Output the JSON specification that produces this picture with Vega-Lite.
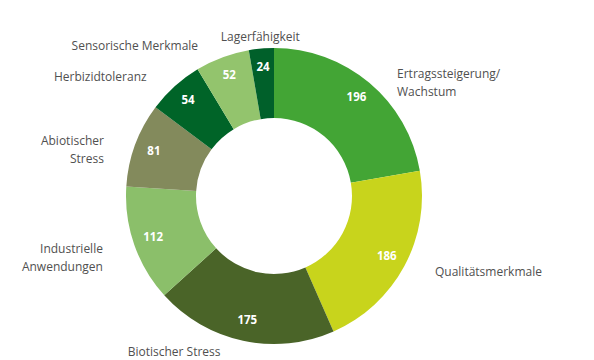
{
  "$schema": "https://vega.github.io/schema/vega-lite/v6.json",
  "autosize": {"type": "none"},
  "padding": {"left": 0, "top": 32, "right": 46, "bottom": 0},
  "width": 548,
  "height": 328,
  "background": "white",
  "config": {"view": {"stroke": null}, "font": "Open Sans"},
  "data": {
    "values": [
      {"category": "Ertragssteigerung/\nWachstum", "value": 196},
      {"category": "Qualitätsmerkmale", "value": 186},
      {"category": "Biotischer Stress", "value": 175},
      {"category": "Industrielle\nAnwendungen", "value": 112},
      {"category": "Abiotischer\nStress", "value": 81},
      {"category": "Herbizidtoleranz", "value": 54},
      {"category": "Sensorische Merkmale", "value": 52},
      {"category": "Lagerfähigkeit", "value": 24}
    ]
  },
  "transform": [
    {"window": [{"op": "row_number", "as": "rank"}]},
    {"joinaggregate": [{"op": "sum", "field": "value", "as": "total"}]}
  ],
  "encoding": {
    "theta": {"field": "value", "type": "quantitative", "stack": true},
    "order": {"field": "rank", "type": "quantitative"}
  },
  "layer": [
    {
      "mark": {"type": "arc", "radius": 148, "radius2": 78},
      "encoding": {
        "color": {
          "field": "category",
          "type": "nominal",
          "legend": null,
          "scale": {
            "domain": ["Ertragssteigerung/\nWachstum", "Qualitätsmerkmale", "Biotischer Stress", "Industrielle\nAnwendungen", "Abiotischer\nStress", "Herbizidtoleranz", "Sensorische Merkmale", "Lagerfähigkeit"],
            "range": ["#43a535", "#c8d41c", "#4a6428", "#8bbf6a", "#838a5c", "#006428", "#93c46d", "#00602a"]
          }
        }
      }
    },
    {
      "mark": {"type": "text", "radius": 128, "fill": "white", "fontWeight": "bold", "fontSize": 11.5},
      "encoding": {"text": {"field": "value", "type": "quantitative"}}
    },
    {
      "mark": {
        "type": "text",
        "radius": 160,
        "fill": "#505050",
        "fontSize": 12,
        "lineBreak": "\n",
        "lineHeight": 18,
        "align": {"expr": "((datum.value_start + datum.value_end) / 2 / datum.total > 0.97) ? 'center' : ((datum.value_start + datum.value_end) / 2 / datum.total > 0.5 ? 'right' : 'left')"},
        "dx": {"expr": "((datum.value_start + datum.value_end) / 2 / datum.total > 0.97) ? 0 : ((datum.value_start + datum.value_end) / 2 / datum.total > 0.5 ? -20 : 20)"}
      },
      "encoding": {"text": {"field": "category", "type": "nominal"}}
    }
  ]
}
